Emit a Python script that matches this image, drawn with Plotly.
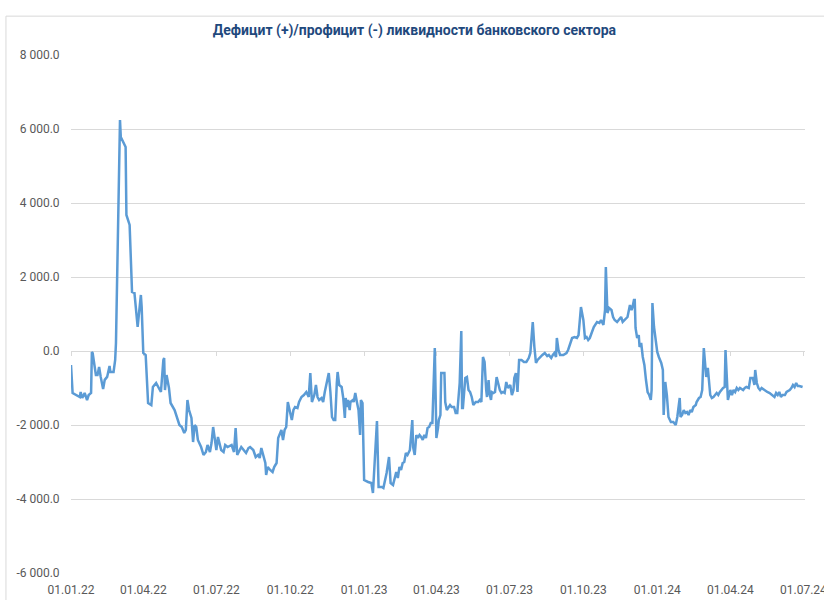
import plotly.graph_objects as go

title_text = "Дефицит (+)/профицит (-) ликвидности банковского сектора"

md_2022 = ["01-01","01-03","01-12","01-13","01-15","01-18","01-21","01-23","01-26","01-27","01-28",
    "02-01","02-03","02-05","02-07","02-10","02-12","02-15","02-18","02-19","02-23","02-25","02-26","02-28",
    "03-02","03-03","03-04","03-07","03-10","03-11","03-15","03-18","03-21","03-25","03-29","03-30",
    "04-01","04-04","04-07","04-11","04-13","04-17","04-20","04-23","04-26","04-27","04-28","04-30",
    "05-03","05-05","05-10","05-13","05-16","05-19","05-22","05-24","05-26","05-28","05-31",
    "06-02","06-04","06-06","06-08","06-12","06-15","06-18","06-20","06-23","06-25","06-27","06-29",
    "07-01","07-03","07-07","07-10","07-12","07-15","07-18","07-20","07-23","07-25","07-27","07-30",
    "08-01","08-04","08-07","08-10","08-12","08-16","08-19","08-22","08-24","08-26","08-28","08-31",
    "09-01","09-03","09-06","09-09","09-11","09-14","09-16","09-18","09-20","09-22","09-24","09-26","09-28",
    "10-01","10-03","10-05","10-07","10-10","10-12","10-15","10-18","10-21","10-24","10-26","10-28","10-31",
    "11-02","11-04","11-06","11-09","11-11","11-13","11-16","11-18","11-20","11-22","11-24","11-26","11-28","11-29",
    "12-01","12-04","12-06","12-08","12-09","12-11","12-12","12-14","12-15","12-18","12-19","12-21","12-23","12-25","12-27","12-28","12-30"]
val_2022 = [-380,-1135,-1243,-1110,-1270,-1135,-1324,-1190,-1135,-27,-60,
    -650,-650,-432,-700,-1027,-780,-700,-405,-568,-568,-243,216,2919,
    5622,6244,5784,5650,5514,3676,3406,1595,1568,649,1514,1190,
    -54,-110,-1405,-1460,-973,-865,-1000,-1108,-243,-190,-1054,-649,
    -1000,-1405,-1595,-1811,-2000,-2054,-2216,-2135,-1324,-1595,-1811,
    -2460,-2000,-2054,-2405,-2595,-2811,-2730,-2540,-2730,-2487,-2054,-2460,
    -2676,-2324,-2676,-2730,-2540,-2595,-2568,-2540,-2730,-2081,-2811,-2676,
    -2595,-2676,-2757,-2622,-2595,-2676,-2865,-2811,-2892,-2622,-2757,-3027,
    -3352,-3135,-3216,-3270,-3135,-3027,-2351,-2216,-2135,-2405,-2135,-2054,-1378,
    -1676,-1865,-1595,-1514,-1540,-1378,-1243,-1190,-1108,-1243,-595,-1378,-1190,
    -919,-1243,-1324,-1270,-1378,-1108,-730,-595,-1108,-1784,-1865,-1865,-865,-568,
    -919,-973,-1270,-1811,-1270,-1514,-1324,-1595,-1378,-1324,-1378,-1135,-1378,-1595,-2270,-1324,-1405]

md_2023 = ["01-01","01-06","01-10","01-12","01-14","01-17","01-19","01-23","01-25","01-29",
    "02-01","02-03","02-06","02-08","02-10","02-12","02-14","02-16","02-18","02-20","02-22","02-24","02-27",
    "03-02","03-03","03-05","03-07","03-09","03-11","03-13","03-15","03-17","03-19","03-21","03-23","03-25","03-27","03-30","03-31",
    "04-01","04-03","04-04","04-06","04-07","04-11","04-12","04-14","04-16","04-18","04-20","04-23","04-25","04-27","04-30",
    "05-02","05-03","05-04","05-07","05-09","05-11","05-13","05-15","05-17","05-20","05-23","05-25","05-27","05-29","05-31",
    "06-02","06-03","06-05","06-06","06-08","06-09","06-11","06-13","06-15","06-17","06-19","06-21","06-23","06-25","06-27","06-29",
    "07-02","07-04","07-06","07-07","07-09","07-11","07-13","07-16","07-19","07-22","07-25","07-27","07-28","07-30",
    "08-01","08-03","08-05","08-08","08-11","08-14","08-17","08-19","08-22","08-24","08-26","08-28","08-29","08-31",
    "09-02","09-06","09-10","09-12","09-14","09-17","09-20","09-23","09-25","09-28",
    "10-01","10-03","10-05","10-07","10-09","10-12","10-14","10-18","10-21","10-23","10-26","10-28","10-29","10-31",
    "11-02","11-05","11-07","11-09","11-12","11-14","11-17","11-19","11-21","11-23","11-25","11-28","11-30",
    "12-01","12-03","12-04","12-05","12-07","12-09","12-10","12-12","12-14","12-16","12-18","12-20","12-22","12-24","12-25","12-26","12-28"]
val_2023 = [-3487,-3540,-3568,-3838,-3135,-1892,-3676,-3676,-3703,-3297,
    -2865,-3568,-3622,-3432,-3270,-3432,-3135,-3216,-3027,-3000,-2757,-2811,-2676,
    -1865,-2595,-2811,-2270,-2351,-2270,-2324,-2405,-2270,-2351,-2081,-2054,-1946,-1946,81,-1865,
    -2351,-2081,-1865,-1730,-595,-595,-1378,-1595,-1540,-1460,-1514,-1514,-1676,-1676,-865,
    540,-1540,-1540,-730,-703,-1054,-1108,-1243,-1460,-1378,-1378,-1324,-1378,-162,-297,
    -1054,-1243,-784,-1135,-1324,-1108,-1135,-1108,-703,-919,-1054,-1135,-1108,-1135,-838,-1000,
    -919,-1190,-1054,-730,-595,-1108,-243,-243,-297,-297,-190,-54,351,784,
    108,-324,-243,-162,-108,-54,-135,-108,-190,-108,-54,-162,351,27,
    -108,-108,-54,27,162,351,378,351,432,1189,
    838,351,378,297,351,568,649,784,757,838,703,1108,2270,1027,
    1162,1108,919,838,784,838,919,784,838,892,919,1243,1108,
    1162,1378,1378,622,351,432,108,216,-162,-378,-784,-1108,-1190,-1324,-1054,1297,649]

md_2024 = ["01-01","01-03","01-06","01-08","01-09","01-11","01-13","01-15","01-18","01-21","01-24","01-26","01-29","01-30",
    "02-01","02-03","02-05","02-07","02-09","02-11","02-13","02-15","02-18","02-19","02-22","02-24","02-26","02-28",
    "03-02","03-04","03-06","03-07","03-09","03-11","03-13","03-15","03-17","03-19","03-23","03-25","03-26","03-28","03-29",
    "04-01","04-03","04-05","04-07","04-09","04-11","04-13","04-17","04-19","04-21","04-24","04-26","04-29",
    "05-01","05-02","05-04","05-06","05-08","05-10","05-13","05-17","05-20","05-23","05-26","05-28","05-30",
    "06-01","06-03","06-05","06-08","06-10","06-14","06-16","06-18","06-20","06-22","06-24","06-26","06-30"]
val_2024 = [-27,-162,-324,-514,-1730,-838,-1190,-1784,-1919,-1919,-2000,-1784,-1270,-1784,
    -1730,-1595,-1676,-1649,-1730,-1595,-1649,-1514,-1460,-1378,-1270,-1243,-1054,81,
    -703,-459,-838,-1189,-1270,-1243,-1190,-1135,-1190,-1108,-1000,-973,27,-703,-1324,
    -1054,-1190,-1054,-1108,-1000,-1054,-1000,-1054,-1000,-973,-1000,-730,-730,
    -919,-514,-865,-1000,-1054,-1000,-1054,-1108,-1135,-1190,-1243,-1135,-1190,
    -1108,-1243,-1190,-1190,-1108,-1054,-1000,-919,-973,-865,-946,-946,-973]

dates = ([f"2022-{d}" for d in md_2022] + [f"2023-{d}" for d in md_2023]
         + [f"2024-{d}" for d in md_2024])
values = val_2022 + val_2023 + val_2024

x_tick_dates = ["2022-01-01","2022-04-01","2022-07-01","2022-10-01","2023-01-01","2023-04-01",
                "2023-07-01","2023-10-01","2024-01-01","2024-04-01","2024-07-01"]
x_tick_labels = ["01.01.22","01.04.22","01.07.22","01.10.22","01.01.23","01.04.23",
                 "01.07.23","01.10.23","01.01.24","01.04.24","01.07.24"]
y_tick_vals = [-6000,-4000,-2000,0,2000,4000,6000,8000]
y_tick_labels = ["-6 000.0","-4 000.0","-2 000.0","0.0","2 000.0","4 000.0","6 000.0","8 000.0"]

x_range = ["2022-01-01", "2024-07-03"]
grid = "#D9D9D9"
font_family = "Roboto, 'Open Sans', sans-serif"

fig = go.Figure()
# invisible trace to instantiate the zero-crossing axis
fig.add_trace(go.Scatter(x=dates, y=values, xaxis="x", yaxis="y", mode="lines",
                         line=dict(width=0), opacity=0, hoverinfo="skip", showlegend=False))
fig.add_trace(go.Scatter(x=dates, y=values, xaxis="x2", yaxis="y", mode="lines",
                         line=dict(color="#5B9BD5", width=2.5), showlegend=False))

fig.update_layout(
    width=824, height=600,
    margin=dict(l=71, r=19, t=55, b=27, autoexpand=False),
    paper_bgcolor="white", plot_bgcolor="white",
    font=dict(family=font_family, color="#595959", size=12),
    title=dict(text=title_text, xref="container", x=0.503, xanchor="center",
               yref="container", y=0.95, yanchor="middle", automargin=False,
               font=dict(family=font_family, size=14, color="#1F497D", weight="bold")),
    xaxis=dict(type="date", range=x_range, anchor="free", position=6/14,
               showline=True, linecolor=grid, linewidth=1,
               ticks="outside", ticklen=4, tickcolor=grid, tickwidth=1,
               tickvals=x_tick_dates, showticklabels=False, showgrid=False,
               zeroline=False, layer="below traces", automargin=False),
    xaxis2=dict(type="date", range=x_range, overlaying="x", anchor="y", side="bottom",
                tickvals=x_tick_dates, ticktext=x_tick_labels,
                ticks="outside", ticklen=6, tickcolor="rgba(0,0,0,0)",
                showgrid=False, showline=False, zeroline=False, automargin=False,
                ticklabeloverflow="allow",
                tickfont=dict(size=12, color="#595959")),
    yaxis=dict(range=[-6000, 8000], tickvals=y_tick_vals, ticktext=y_tick_labels,
               showgrid=True, gridcolor=grid, gridwidth=1, zeroline=False, showline=False,
               ticks="outside", ticklen=8, tickcolor="rgba(0,0,0,0)", automargin=False,
               tickfont=dict(size=12, color="#595959")),
    shapes=[dict(type="rect", xref="paper", yref="paper",
                 x0=-0.0886, x1=1.06, y0=-0.09, y1=1.075,
                 line=dict(color=grid, width=1), fillcolor="rgba(0,0,0,0)", layer="below")],
)

fig.write_html("out.html", config={"displayModeBar": False},
               post_script="document.body.style.margin='0';document.body.style.overflow='hidden';")
